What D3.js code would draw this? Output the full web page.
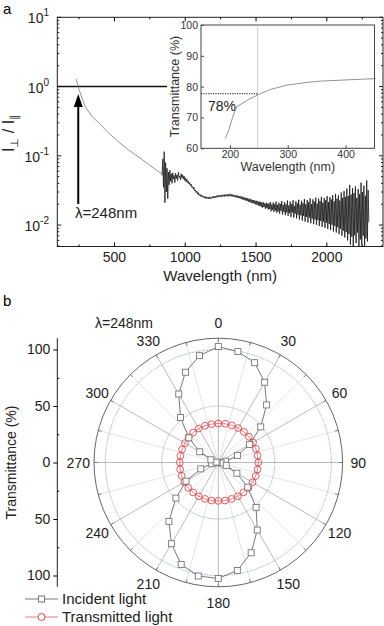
<!DOCTYPE html>
<html>
<head>
<meta charset="utf-8">
<script src="https://cdn.jsdelivr.net/npm/d3@7"></script>
<style>
  html, body { margin: 0; padding: 0; background: #fff; }
  svg { display: block; font-family: "Liberation Sans", Arial, sans-serif; }
</style>
</head>
<body>
<div id="chart"></div>
<script>
// ---- panel a: ratio spectrum ----
const smoothWl = [234, 250, 275, 300, 350, 400, 450, 500, 550, 600, 650, 700, 750, 800, 840];
const smoothRatio = [1.28, 0.95, 0.68, 0.5, 0.36, 0.29, 0.225, 0.182, 0.148, 0.123, 0.104, 0.088, 0.074, 0.062, 0.055];

// noisy part, one reading every 5 nm from 840 nm to 2300 nm
const noisyStartWl = 840;
const noisyStepWl = 5;
const noisyRatio = [
  0.052, 0.09, 0.035, 0.115, 0.021, 0.08, 0.03, 0.066, 0.024, 0.058,
  0.038, 0.062, 0.043, 0.055, 0.04, 0.057, 0.046, 0.052, 0.041, 0.056,
  0.047, 0.053, 0.044, 0.058, 0.049, 0.051, 0.045, 0.055, 0.048, 0.053,
  0.046, 0.051, 0.044, 0.048, 0.042, 0.046, 0.041, 0.043, 0.039, 0.041,
  0.037, 0.039, 0.035, 0.036, 0.033, 0.035, 0.031, 0.032, 0.0295, 0.031,
  0.028, 0.0295, 0.027, 0.028, 0.026, 0.0275, 0.0255, 0.0265, 0.025, 0.026,
  0.0245, 0.0258, 0.024, 0.0255, 0.0242, 0.0252, 0.0238, 0.0256, 0.024, 0.0252,
  0.0243, 0.0257, 0.0245, 0.026, 0.0247, 0.0262, 0.025, 0.0265, 0.0252, 0.0268,
  0.0255, 0.027, 0.0256, 0.0268, 0.0254, 0.0275, 0.026, 0.0272, 0.0258, 0.0278,
  0.026, 0.0274, 0.0262, 0.028, 0.0259, 0.0276, 0.0263, 0.0282, 0.026, 0.0275,
  0.0258, 0.0273, 0.0255, 0.027, 0.0252, 0.0268, 0.0248, 0.0266, 0.0246, 0.0262,
  0.0242, 0.026, 0.0238, 0.0257, 0.0233, 0.0252, 0.023, 0.0249, 0.0226, 0.0247,
  0.0222, 0.0243, 0.0218, 0.024, 0.0214, 0.0236, 0.021, 0.0232, 0.0207, 0.023,
  0.0204, 0.0226, 0.0199, 0.0224, 0.0196, 0.022, 0.0192, 0.0218, 0.0188, 0.0216,
  0.0184, 0.0213, 0.0179, 0.0212, 0.0182, 0.0205, 0.0172, 0.021, 0.0176, 0.0203,
  0.0168, 0.0207, 0.017, 0.0215, 0.0158, 0.0198, 0.0166, 0.0212, 0.0155, 0.02,
  0.0162, 0.0218, 0.015, 0.0196, 0.0158, 0.021, 0.0146, 0.0202, 0.0161, 0.0222,
  0.0142, 0.0195, 0.0155, 0.0214, 0.0139, 0.0199, 0.0152, 0.0226, 0.0136, 0.0192,
  0.0149, 0.0218, 0.0131, 0.0201, 0.0152, 0.0228, 0.0128, 0.0189, 0.0146, 0.0221,
  0.0125, 0.0205, 0.0141, 0.0232, 0.012, 0.0196, 0.0138, 0.0224, 0.0116, 0.0209,
  0.0135, 0.0238, 0.0112, 0.0199, 0.0131, 0.0229, 0.0109, 0.0213, 0.0128, 0.0243,
  0.0106, 0.0201, 0.0124, 0.0235, 0.0103, 0.0218, 0.012, 0.0249, 0.0101, 0.0204,
  0.0118, 0.024, 0.0097, 0.0223, 0.0115, 0.0255, 0.0094, 0.021, 0.0112, 0.0246,
  0.0091, 0.0228, 0.0108, 0.0262, 0.0088, 0.0214, 0.0104, 0.0253, 0.0085, 0.0234,
  0.0101, 0.027, 0.0081, 0.0219, 0.0097, 0.0282, 0.0078, 0.024, 0.0093, 0.0268,
  0.0074, 0.0226, 0.0089, 0.0295, 0.007, 0.0247, 0.0083, 0.031, 0.0066, 0.0255,
  0.0079, 0.0335, 0.006, 0.0262, 0.0074, 0.038, 0.0052, 0.0275, 0.0068, 0.034,
  0.0047, 0.029, 0.0071, 0.036, 0.0055, 0.0245, 0.0078, 0.033, 0.0049, 0.028,
  0.0062, 0.041, 0.0051, 0.03, 0.007, 0.037, 0.0046, 0.0265, 0.0064, 0.044,
  0.0058, 0.032, 0.011
];
const xTicksA = [500, 1000, 1500, 2000];
const yExpA = [-2, -1, 0, 1];

// inset: transmittance near the UV edge
const insetWl = [192, 197, 206, 212, 230, 250, 270, 299, 334, 357, 392, 426, 452];
const insetT = [63.2, 65.4, 70.8, 73.5, 75.6, 77.5, 79.1, 80.5, 81.4, 81.8, 82.1, 82.4, 82.6];
const insetXTicks = [200, 300, 400];
const insetYTicks = [60, 70, 80, 90, 100];

// ---- panel b: polar plot ----
const polarAngles = [0, 10, 20, 30, 40, 50, 60, 70, 80, 90, 100, 110, 120, 130, 140, 150, 160, 170,
  180, 190, 200, 210, 220, 230, 240, 250, 260, 270, 280, 290, 300, 310, 320, 330, 340, 350];
const incident = [102.6, 99.7, 94, 82, 66.5, 49, 32, 18, 6.5, 1, 2.5, 7.5, 19, 34, 52, 69, 85, 97,
  102.6, 102, 96, 83, 68, 49, 33, 16.5, 6, 1, 2, 7, 19, 34, 52, 70, 85, 96];
const transmitted = [34.5, 34.8, 35, 35.2, 35.3, 35.4, 35.5, 35.4, 35.3, 35.4, 35.3, 35.2, 35, 34.8, 34.6, 34.5, 34.3, 34.2,
  34, 34.2, 34.3, 34.5, 34.6, 34.8, 34.7, 34.5, 34.3, 34.1, 34, 34.1, 34.2, 34.4, 34.6, 34.7, 34.6, 34.5];
const angleLabels = [0, 30, 60, 90, 120, 150, 180, 210, 240, 270, 300, 330];
const radialTicks = [-100, -50, 0, 50, 100];

const W = 384, H = 626;
const FONT = '"Liberation Sans", Arial, sans-serif';
const svg = d3.select('#chart').append('svg').attr('width', W).attr('height', H);

// ================= panel a =================
const ax = { l: 57.3, r: 383, t: 17.3, b: 246.5 };
const x = d3.scaleLinear().domain([100, 2400]).range([ax.l, ax.r]);
const y = d3.scaleLog().domain([0.0049, 10]).range([ax.b, ax.t]);

svg.append('text').attr('x', 3).attr('y', 14).style('font-size', '15px').text('a');

const gA = svg.append('g');
svg.append('clipPath').attr('id', 'clipA').append('rect')
  .attr('x', ax.l).attr('y', ax.t).attr('width', ax.r - ax.l).attr('height', ax.b - ax.t);

// frame
gA.append('rect').attr('x', ax.l).attr('y', ax.t).attr('width', ax.r - ax.l).attr('height', ax.b - ax.t)
  .attr('fill', 'none').attr('stroke', '#222').attr('stroke-width', 1);

// minor log ticks
const minorLog = [];
[-3, -2, -1, 0].forEach(e => { for (let m = 2; m <= 9; m++) { const v = m * Math.pow(10, e); if (v >= 0.0049 && v <= 10) minorLog.push(v); } });
const majorLog = yExpA.map(e => Math.pow(10, e));

function tickLines(g, vals, len, side) {
  vals.forEach(v => {
    const yy = y(v);
    if (side === 'left') g.append('line').attr('x1', ax.l).attr('x2', ax.l + len).attr('y1', yy).attr('y2', yy);
    else g.append('line').attr('x1', ax.r).attr('x2', ax.r - len).attr('y1', yy).attr('y2', yy);
  });
}
const tg = gA.append('g').attr('stroke', '#222').attr('stroke-width', 1);
tickLines(tg, majorLog, 4, 'left');
tickLines(tg, minorLog, 2, 'left');
tickLines(tg, majorLog, 4, 'right');
tickLines(tg, minorLog, 2, 'right');

// x axis bottom/top
const xMinor = [250, 750, 1250, 1750, 2250];
gA.append('g').attr('transform', `translate(0,${ax.b})`)
  .call(d3.axisBottom(x).tickValues(xTicksA).tickFormat(d3.format('d')).tickSizeInner(-4).tickSizeOuter(0).tickPadding(6))
  .call(g => g.select('.domain').remove())
  .call(g => g.selectAll('text').style('font-size', '14px').attr('fill', '#222').style('font-family', FONT));
gA.append('g').attr('transform', `translate(0,${ax.b})`)
  .call(d3.axisBottom(x).tickValues(xMinor).tickSizeInner(-2).tickSizeOuter(0).tickFormat(''))
  .call(g => g.select('.domain').remove());
gA.append('g').attr('transform', `translate(0,${ax.t})`)
  .call(d3.axisTop(x).tickValues(xTicksA).tickSizeInner(-4).tickSizeOuter(0).tickFormat(''))
  .call(g => g.select('.domain').remove());
gA.append('g').attr('transform', `translate(0,${ax.t})`)
  .call(d3.axisTop(x).tickValues(xMinor).tickSizeInner(-2).tickSizeOuter(0).tickFormat(''))
  .call(g => g.select('.domain').remove());

// y tick labels 10^n
yExpA.forEach(e => {
  const t = gA.append('text').attr('x', 49).attr('y', y(Math.pow(10, e)) + 6)
    .attr('text-anchor', 'end').style('font-size', '14px').attr('fill', '#222');
  t.append('tspan').text('10');
  t.append('tspan').attr('dy', -7).style('font-size', '10px').text(e);
});

// axis titles
gA.append('text').attr('x', (ax.l + ax.r) / 2).attr('y', 281).attr('text-anchor', 'middle')
  .style('font-size', '15px').attr('fill', '#222').text('Wavelength (nm)');
const yt = gA.append('text').attr('transform', 'translate(14,133) rotate(-90)').attr('text-anchor', 'middle')
  .style('font-size', '16px').attr('fill', '#222');
yt.append('tspan').text('I');
yt.append('tspan').attr('dy', 4).style('font-size', '11px').text('⊥');
yt.append('tspan').attr('dy', -4).text(' / I');
yt.append('tspan').attr('dy', 4).style('font-size', '11px').text('∥');

// reference line at 1
gA.append('line').attr('x1', ax.l).attr('x2', 167).attr('y1', y(1)).attr('y2', y(1))
  .attr('stroke', '#111').attr('stroke-width', 1.5);

// smooth curve
const lineA = d3.line().x(d => x(d[0])).y(d => y(d[1]));
const plotA = gA.append('g').attr('clip-path', 'url(#clipA)');
plotA.append('path').datum(smoothWl.map((w, i) => [w, smoothRatio[i]]))
  .attr('d', lineA).attr('fill', 'none').attr('stroke', '#777').attr('stroke-width', 0.8);

// noisy curve
const noisyPts = noisyRatio.map((v, i) => [noisyStartWl + i * noisyStepWl, v]);
plotA.append('path').datum(noisyPts)
  .attr('d', lineA).attr('fill', 'none').attr('stroke', '#161616').attr('stroke-width', 0.8);

// arrow at 248 nm
const arX = x(248);
gA.append('line').attr('x1', arX).attr('x2', arX).attr('y1', 204).attr('y2', 104)
  .attr('stroke', '#000').attr('stroke-width', 2);
gA.append('path').attr('d', `M${arX},94 L${arX - 4.5},107 L${arX + 4.5},107 Z`).attr('fill', '#000');
gA.append('text').attr('x', 75).attr('y', 218).style('font-size', '15px').attr('fill', '#222').text('λ=248nm');

// ---- inset ----
const ins = { l: 201, r: 374.5, t: 25, b: 148.3 };
const xi = d3.scaleLinear().domain([150, 450]).range([ins.l, ins.r]);
const yi = d3.scaleLinear().domain([60, 100]).range([ins.b, ins.t]);
const gI = svg.append('g');
gI.append('rect').attr('x', ins.l).attr('y', ins.t).attr('width', ins.r - ins.l).attr('height', ins.b - ins.t)
  .attr('fill', '#fff').attr('stroke', '#444').attr('stroke-width', 1);
gI.append('g').attr('transform', `translate(0,${ins.b})`)
  .call(d3.axisBottom(xi).tickValues(insetXTicks).tickSizeInner(-3).tickSizeOuter(0).tickPadding(2))
  .call(g => g.select('.domain').remove())
  .call(g => g.selectAll('line').attr('stroke', '#444'))
  .call(g => g.selectAll('text').style('font-size', '10.5px').attr('fill', '#333').style('font-family', FONT));
gI.append('g').attr('transform', `translate(${ins.l},0)`)
  .call(d3.axisLeft(yi).tickValues(insetYTicks).tickSizeInner(-3).tickSizeOuter(0).tickPadding(3))
  .call(g => g.select('.domain').remove())
  .call(g => g.selectAll('line').attr('stroke', '#444'))
  .call(g => g.selectAll('text').style('font-size', '10.5px').attr('fill', '#333').style('font-family', FONT));
gI.append('text').attr('transform', `translate(179,${(ins.t + ins.b) / 2}) rotate(-90)`).attr('text-anchor', 'middle')
  .style('font-size', '12.5px').attr('fill', '#333').text('Transmittance (%)');
gI.append('text').attr('x', (ins.l + ins.r) / 2).attr('y', 171).attr('text-anchor', 'middle')
  .style('font-size', '12.5px').attr('fill', '#333').text('Wavelength (nm)');
// 248 nm marker and 78 % level
gI.append('line').attr('x1', xi(248)).attr('x2', xi(248)).attr('y1', ins.t).attr('y2', ins.b)
  .attr('stroke', '#bbb').attr('stroke-width', 0.8);
gI.append('line').attr('x1', ins.l).attr('x2', xi(248)).attr('y1', yi(77.7)).attr('y2', yi(77.7))
  .attr('stroke', '#111').attr('stroke-width', 1).attr('stroke-dasharray', '1.2,1.2');
gI.append('text').attr('x', 208).attr('y', 111).style('font-size', '14px').attr('fill', '#222').text('78%');
gI.append('path').datum(insetWl.map((w, i) => [w, insetT[i]]))
  .attr('d', d3.line().x(d => xi(d[0])).y(d => yi(d[1])))
  .attr('fill', 'none').attr('stroke', '#777').attr('stroke-width', 0.8);

// ================= panel b =================
svg.append('text').attr('x', 3).attr('y', 306).style('font-size', '15px').text('b');
const cx = 218.3, cy = 462.5;
const r = d3.scaleLinear().domain([0, 110]).range([0, 124.3]);
const gP = svg.append('g');
const rad = a => a * Math.PI / 180;
const px = (a, v) => cx + r(v) * Math.sin(rad(a));
const py = (a, v) => cy - r(v) * Math.cos(rad(a));

// radial spokes every 15 deg
d3.range(0, 360, 15).forEach(a => {
  gP.append('line').attr('x1', cx).attr('y1', cy).attr('x2', px(a, 110)).attr('y2', py(a, 110))
    .attr('stroke', a % 30 === 0 ? '#aaa' : '#ddd').attr('stroke-width', 0.8);
});
// dotted rings
[50, 100].forEach(v => {
  gP.append('circle').attr('cx', cx).attr('cy', cy).attr('r', r(v))
    .attr('fill', 'none').attr('stroke', '#8d9ac8').attr('stroke-width', 0.8).attr('stroke-dasharray', '1.5,1');
});
gP.append('circle').attr('cx', cx).attr('cy', cy).attr('r', r(110))
  .attr('fill', 'none').attr('stroke', '#666').attr('stroke-width', 1);
// little ticks on outer ring
d3.range(0, 360, 15).forEach(a => {
  gP.append('line').attr('x1', px(a, 110)).attr('y1', py(a, 110)).attr('x2', px(a, 107)).attr('y2', py(a, 107))
    .attr('stroke', '#666').attr('stroke-width', 0.8);
});

// angle labels
angleLabels.forEach(a => {
  gP.append('text').attr('x', cx + 140 * Math.sin(rad(a))).attr('y', cy - 140 * Math.cos(rad(a)))
    .attr('text-anchor', 'middle').attr('dominant-baseline', 'central')
    .style('font-size', '14px').attr('fill', '#222').text(a);
});
gP.append('text').attr('x', 95).attr('y', 328).style('font-size', '14px').attr('fill', '#222').text('λ=248nm');

// radial axis on the left
const yP = d3.scaleLinear().domain([-110, 110]).range([cy + r(110), cy - r(110)]);
gP.append('g').attr('transform', 'translate(57.3,0)')
  .call(d3.axisLeft(yP).tickValues(radialTicks).tickSize(4).tickPadding(3).tickFormat(d => Math.abs(d)))
  .call(g => g.select('.domain').attr('d', `M0,${yP(-110)}V${yP(110)}`).attr('stroke', '#222'))
  .call(g => g.selectAll('text').style('font-size', '14px').attr('fill', '#222').style('font-family', FONT));
gP.append('g').attr('transform', 'translate(57.3,0)')
  .call(d3.axisRight(yP).tickValues([-75, -25, 25, 75]).tickSize(2).tickFormat(''))
  .call(g => g.select('.domain').remove());
gP.append('text').attr('transform', `translate(16,${cy}) rotate(-90)`).attr('text-anchor', 'middle')
  .style('font-size', '14px').attr('fill', '#222').text('Transmittance (%)');

// series
const closedLine = d3.line().curve(d3.curveLinearClosed);
const incPts = polarAngles.map((a, i) => [px(a, incident[i]), py(a, incident[i])]);
const trnPts = polarAngles.map((a, i) => [px(a, transmitted[i]), py(a, transmitted[i])]);
gP.append('path').attr('d', closedLine(incPts)).attr('fill', 'none').attr('stroke', '#555').attr('stroke-width', 0.8);
gP.append('path').attr('d', closedLine(trnPts)).attr('fill', 'none').attr('stroke', '#e05a5f').attr('stroke-width', 0.8);
gP.selectAll('.tr').data(trnPts).join('circle').attr('class', 'tr')
  .attr('cx', d => d[0]).attr('cy', d => d[1]).attr('r', 3.4)
  .attr('fill', 'none').attr('stroke', '#e5454b').attr('stroke-width', 0.9);
gP.selectAll('.inc').data(incPts).join('rect').attr('class', 'inc')
  .attr('x', d => d[0] - 3).attr('y', d => d[1] - 3).attr('width', 6).attr('height', 6)
  .attr('fill', '#fff').attr('stroke', '#777').attr('stroke-width', 0.9);

// legend
const leg = svg.append('g');
[['Incident light', '#555', '#777', 'sq', 599], ['Transmitted light', '#e05a5f', '#e5454b', 'ci', 617]].forEach(([lab, lc, mc, m, yy]) => {
  leg.append('line').attr('x1', 25).attr('x2', 58).attr('y1', yy).attr('y2', yy).attr('stroke', lc).attr('stroke-width', 0.8);
  if (m === 'sq') leg.append('rect').attr('x', 38.5).attr('y', yy - 3).attr('width', 6).attr('height', 6).attr('fill', '#fff').attr('stroke', mc);
  else leg.append('circle').attr('cx', 41.5).attr('cy', yy).attr('r', 3.5).attr('fill', '#fff').attr('stroke', mc);
  leg.append('text').attr('x', 62).attr('y', yy + 5).style('font-size', '15px').attr('fill', '#222').text(lab);
});
</script>
</body>
</html>
